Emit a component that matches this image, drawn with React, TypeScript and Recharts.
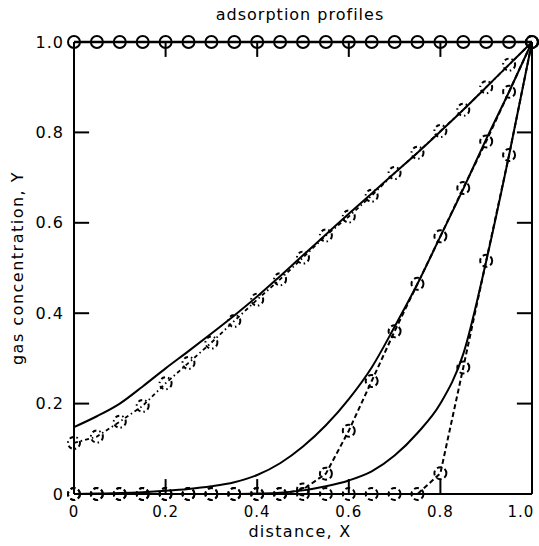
import React from 'react';
import { ComposedChart, Line, XAxis, YAxis, ReferenceLine } from 'recharts';

const xs = [0, 0.05, 0.1, 0.15, 0.2, 0.25, 0.3, 0.35, 0.4, 0.45, 0.5, 0.55, 0.6, 0.65, 0.7, 0.75, 0.8, 0.85, 0.9, 0.95, 1.0];
const topMarkers = [1, 1, 1, 1, 1, 1, 1, 1, 1, 1, 1, 1, 1, 1, 1, 1, 1, 1, 1, 1, 1];
const bMarkers = [0.113, 0.127, 0.16, 0.195, 0.245, 0.29, 0.335, 0.383, 0.43, 0.475, 0.523, 0.572, 0.614, 0.66, 0.71, 0.755, 0.803, 0.85, 0.9, 0.95, 1.0];
const bModel = [0.148, 0.172, 0.2, 0.238, 0.278, 0.316, 0.355, 0.395, 0.437, 0.482, 0.528, 0.574, 0.62, 0.665, 0.71, 0.755, 0.802, 0.85, 0.9, 0.95, 1.0];
const cMarkers = [0, 0, 0, 0, 0, 0, 0, 0, 0, 0, 0.01, 0.045, 0.14, 0.25, 0.36, 0.465, 0.57, 0.677, 0.78, 0.89, 1.0];
const cModel = [0, 0.001, 0.002, 0.004, 0.007, 0.011, 0.017, 0.026, 0.042, 0.068, 0.105, 0.152, 0.21, 0.28, 0.37, 0.465, 0.57, 0.675, 0.785, 0.89, 1.0];
const dMarkers = [0, 0, 0, 0, 0, 0, 0, 0, 0, 0, 0, 0, 0, 0, 0, 0, 0.046, 0.28, 0.516, 0.75, 1.0];
const dModel = [0, 0, 0, 0, 0, 0, 0, 0, 0.001, 0.003, 0.008, 0.017, 0.03, 0.05, 0.085, 0.135, 0.2, 0.31, 0.515, 0.75, 1.0];
const xTicks = [0, 0.2, 0.4, 0.6, 0.8, 1.0];
const yTicks = [0, 0.2, 0.4, 0.6, 0.8, 1.0];
const innerTicks = [0.2, 0.4, 0.6, 0.8];

const data = xs.map((x, i) => ({
  x,
  top: topMarkers[i],
  bM: bMarkers[i],
  bS: bModel[i],
  cM: cMarkers[i],
  cS: cModel[i],
  dM: dMarkers[i],
  dS: dModel[i],
}));

const FONT = '"DejaVu Sans", sans-serif';
const fmt = (v: number) => (v === 0 ? '0' : v.toFixed(1));
const dotStyle = { r: 6, fill: 'none', stroke: '#000', strokeWidth: 2 };
const TL = 0.033;

const XTick = (props: any) => {
  const { x, y, payload } = props;
  const shift = payload.value === 1 ? -11 : 0;
  return (
    <text x={x + shift} y={y} dy="0.71em" textAnchor="middle" fontSize={15} letterSpacing={1} fontFamily={FONT} fill="#000">
      {fmt(payload.value)}
    </text>
  );
};

const YTick = (props: any) => {
  const { x, y, payload } = props;
  return (
    <text x={x} y={y} dy="0.355em" textAnchor="end" fontSize={16} letterSpacing={1} fontFamily={FONT} fill="#000">
      {fmt(payload.value)}
    </text>
  );
};

export default function App() {
  return (
    <div style={{ position: 'absolute', left: 0, top: 0, width: 539, height: 546, background: '#fff' }}>
      <ComposedChart width={539} height={546} data={data} margin={{ top: 42, right: 7, bottom: 0, left: 0 }}>
        <XAxis
          dataKey="x"
          type="number"
          domain={[0, 1]}
          ticks={xTicks}
          height={52}
          tickSize={0}
          tickMargin={12}
          tick={<XTick />}
          axisLine={{ stroke: '#000', strokeWidth: 2 }}
          tickLine={false}
        />
        <YAxis
          type="number"
          domain={[0, 1]}
          ticks={yTicks}
          width={74}
          tickSize={0}
          tickMargin={10}
          tick={<YTick />}
          axisLine={{ stroke: '#000', strokeWidth: 2 }}
          tickLine={false}
        />
        <ReferenceLine x={1} stroke="#000" strokeWidth={2} ifOverflow="visible" />
        {innerTicks.map((t) => (
          <ReferenceLine key={'l' + t} segment={[{ x: 0, y: t }, { x: TL, y: t }]} stroke="#000" strokeWidth={2} ifOverflow="visible" />
        ))}
        {innerTicks.map((t) => (
          <ReferenceLine key={'r' + t} segment={[{ x: 1 - TL, y: t }, { x: 1, y: t }]} stroke="#000" strokeWidth={2} ifOverflow="visible" />
        ))}
        {innerTicks.map((t) => (
          <ReferenceLine key={'b' + t} segment={[{ x: t, y: 0 }, { x: t, y: TL }]} stroke="#000" strokeWidth={2} ifOverflow="visible" />
        ))}
        {innerTicks.map((t) => (
          <ReferenceLine key={'t' + t} segment={[{ x: t, y: 1 - TL }, { x: t, y: 1 }]} stroke="#000" strokeWidth={2} ifOverflow="visible" />
        ))}
        <Line type="linear" dataKey="top" stroke="#000" strokeWidth={2.5} dot={dotStyle} isAnimationActive={false} />
        <Line type="monotone" dataKey="bS" stroke="#000" strokeWidth={2} dot={false} isAnimationActive={false} />
        <Line type="linear" dataKey="bM" stroke="#000" strokeWidth={1.8} strokeDasharray="4 3 1.5 3" dot={dotStyle} isAnimationActive={false} />
        <Line type="monotone" dataKey="cS" stroke="#000" strokeWidth={2} dot={false} isAnimationActive={false} />
        <Line type="linear" dataKey="cM" stroke="#000" strokeWidth={2} strokeDasharray="5 3" dot={dotStyle} isAnimationActive={false} />
        <Line type="monotone" dataKey="dS" stroke="#000" strokeWidth={2} dot={false} isAnimationActive={false} />
        <Line type="linear" dataKey="dM" stroke="#000" strokeWidth={2} strokeDasharray="5 3" dot={dotStyle} isAnimationActive={false} />
      </ComposedChart>
      <div style={{ position: 'absolute', left: 0, width: 600, top: 5, textAlign: 'center', fontFamily: FONT, fontSize: 16, letterSpacing: 1, color: '#000', lineHeight: '20px' }}>
        adsorption profiles
      </div>
      <div style={{ position: 'absolute', left: 0, width: 600, top: 524, textAlign: 'center', fontFamily: FONT, fontSize: 16, letterSpacing: 1.3, color: '#000', lineHeight: '16px' }}>
        distance, X
      </div>
      <div
        style={{
          position: 'absolute',
          left: 18,
          top: 268,
          width: 300,
          marginLeft: -150,
          marginTop: -10,
          textAlign: 'center',
          fontFamily: FONT,
          fontSize: 16,
          letterSpacing: 1.5,
          color: '#000',
          lineHeight: '20px',
          transform: 'rotate(-90deg)',
        }}
      >
        gas concentration, Y
      </div>
    </div>
  );
}
